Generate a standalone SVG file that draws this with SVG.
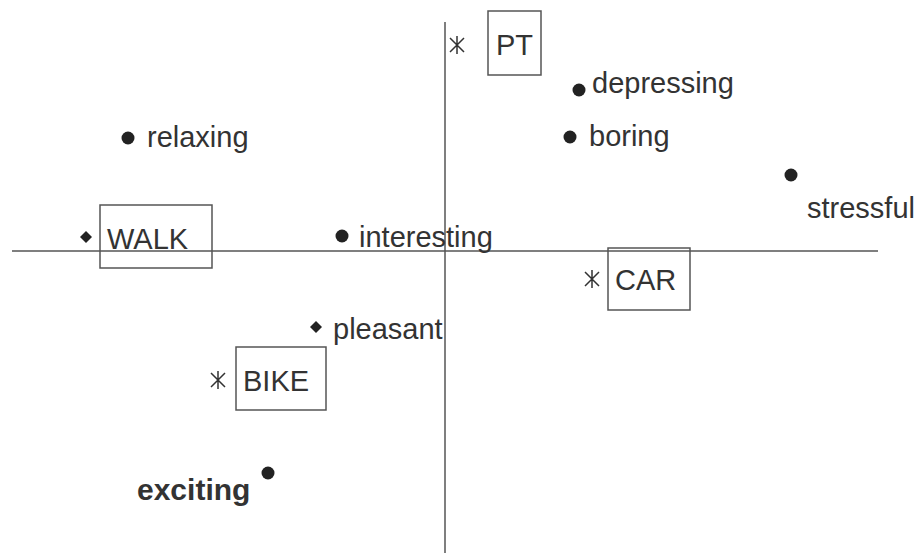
<svg xmlns="http://www.w3.org/2000/svg" width="917" height="556" viewBox="0 0 917 556">
<style>
.t{font-family:"Liberation Sans",Arial,sans-serif;font-size:29px;fill:#333}
.b{font-weight:bold;font-size:30px}
.box{fill:none;stroke:#555;stroke-width:1.5}
.axis{stroke:#555;stroke-width:1.5;fill:none}
.dot{fill:#222}
.ast{stroke:#333;stroke-width:1.5;fill:none}
</style>
<defs>
<path id="ast" d="M0,-9V9M-7,-7L7,7M-7,7L7,-7"/>
<path id="dia" d="M0,-6L6,0L0,6L-6,0Z"/>
</defs>
<rect width="917" height="556" fill="#fff"/>
<g id="axes">
<line class="axis" x1="12" y1="251" x2="878" y2="251"/>
<line class="axis" x1="445" y1="22" x2="445" y2="553"/>
</g>
<g id="PT">
<rect class="box" x="488" y="11" width="53" height="64"/>
<use href="#ast" class="ast" x="457" y="45"/>
<text class="t" x="496" y="55">PT</text>
</g>
<g id="WALK">
<rect class="box" x="100" y="205" width="112" height="63"/>
<use href="#dia" class="dot" x="86" y="237"/>
<text class="t" x="107" y="249">WALK</text>
</g>
<g id="CAR">
<rect class="box" x="608" y="248" width="82" height="62"/>
<use href="#ast" class="ast" x="592" y="279"/>
<text class="t" x="615" y="290">CAR</text>
</g>
<g id="BIKE">
<rect class="box" x="236" y="347" width="90" height="63"/>
<use href="#ast" class="ast" x="218" y="380"/>
<text class="t" x="243" y="391">BIKE</text>
</g>
<g id="depressing">
<circle class="dot" cx="579" cy="90" r="6.5"/>
<text class="t" x="592" y="93">depressing</text>
</g>
<g id="boring">
<circle class="dot" cx="570" cy="137" r="6.5"/>
<text class="t" x="589" y="146">boring</text>
</g>
<g id="relaxing">
<circle class="dot" cx="128" cy="138" r="6.5"/>
<text class="t" x="147" y="147">relaxing</text>
</g>
<g id="stressful">
<circle class="dot" cx="791" cy="175" r="6.5"/>
<text class="t" x="807" y="218">stressful</text>
</g>
<g id="interesting">
<circle class="dot" cx="342" cy="236" r="6.5"/>
<text class="t" x="359" y="247">interesting</text>
</g>
<g id="pleasant">
<use href="#dia" class="dot" x="316" y="327"/>
<text class="t" x="333" y="339">pleasant</text>
</g>
<g id="exciting">
<circle class="dot" cx="268" cy="473" r="6.5"/>
<text class="t b" x="137" y="500">exciting</text>
</g>
</svg>
